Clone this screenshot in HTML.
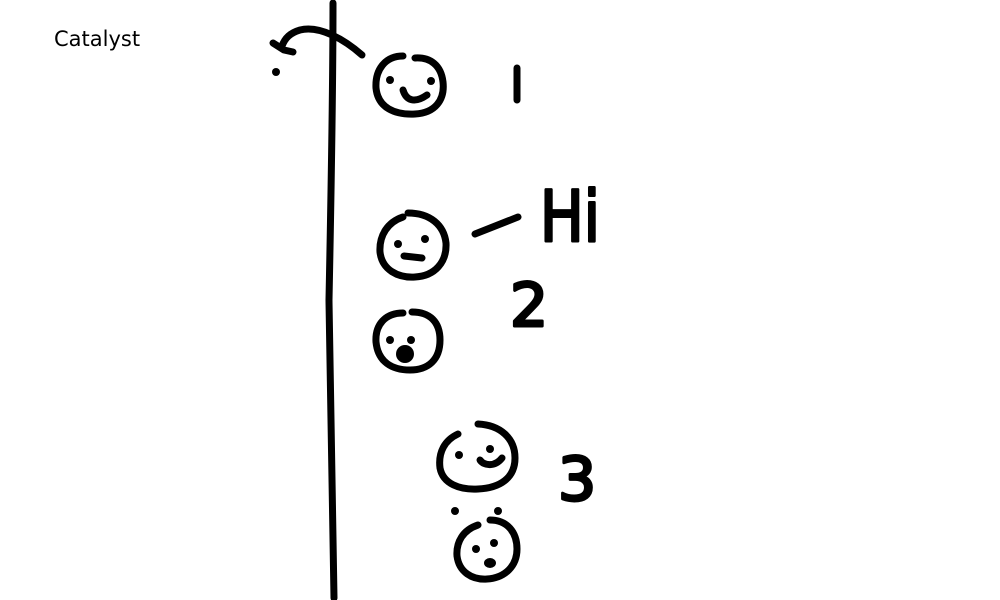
<!DOCTYPE html>
<html><head><meta charset="utf-8"><style>
html,body{margin:0;padding:0;background:#fff;width:1000px;height:600px;overflow:hidden}
svg{display:block}
</style></head><body>
<svg width="1000" height="600" viewBox="0 0 1000 600">
<text x="54" y="46" font-family="DejaVu Sans, Liberation Sans, sans-serif" font-size="21" fill="#000">Catalyst</text>
<g fill="none" stroke="#000" stroke-width="7" stroke-linecap="round" stroke-linejoin="round">
<path d="M333 3 C333 100 331 200 329 300 C330 400 333 500 334 598"/>
<path d="M362 55 C345 40 320 25 300 30 C290 33 285 38 282 46 M273 43 L284 50 L293 52"/>
<path d="M403 56 C385 56 375 70 376 88 C378 108 395 115 415 114 C435 113 445 100 443 82 C441 65 430 57 415 58"/>
<path d="M403 90 C406 100 414 104 427 95"/>
<path d="M517 68 L517 100"/>
<path d="M403 217 C388 222 379 235 380 252 C382 270 398 278 415 277 C435 276 447 262 446 243 C444 225 430 213 408 213"/>
<path d="M404 256 L422 258"/>
<path d="M475 234 L518 217"/>
<path d="M403 313 C385 313 375 325 376 342 C378 362 392 370 410 370 C428 370 440 360 440 340 C440 322 430 312 412 312"/>
<path d="M458 434 C445 440 438 452 440 468 C443 484 460 490 478 489 C500 488 515 478 515 458 C515 438 500 425 478 424"/>
<path d="M480 460 C484 466 495 467 502 458"/>
<path d="M478 525 C463 530 456 542 457 556 C459 572 472 580 487 579 C505 578 517 566 517 549 C517 532 507 520 490 520"/>
</g>
<g fill="#000">
<circle cx="276" cy="72" r="4"/>
<circle cx="390" cy="80" r="4"/>
<circle cx="431" cy="81" r="4"/>
<circle cx="398" cy="244" r="4"/>
<circle cx="425" cy="239" r="4"/>
<circle cx="390" cy="340" r="4"/>
<circle cx="411" cy="340" r="4"/>
<ellipse cx="405" cy="354" rx="9" ry="9"/>
<circle cx="459" cy="455" r="4"/>
<circle cx="490" cy="449" r="4"/>
<circle cx="455" cy="511" r="4"/>
<circle cx="498" cy="511" r="4"/>
<circle cx="476" cy="549" r="4"/>
<circle cx="494" cy="543" r="4"/>
<ellipse cx="490" cy="563" rx="6" ry="5"/>
</g>
<g font-family="DejaVu Sans, Liberation Sans, sans-serif" fill="#000" stroke="#000" stroke-width="3" stroke-linejoin="round">
<text x="540" y="241" font-size="70" textLength="60" lengthAdjust="spacingAndGlyphs">Hi</text>
<text x="510" y="326" font-size="60">2</text>
<text x="558" y="500" font-size="60">3</text>
</g>
<text x="509" y="1" font-size="1" fill="#fff">1</text>
</svg>
</body></html>
